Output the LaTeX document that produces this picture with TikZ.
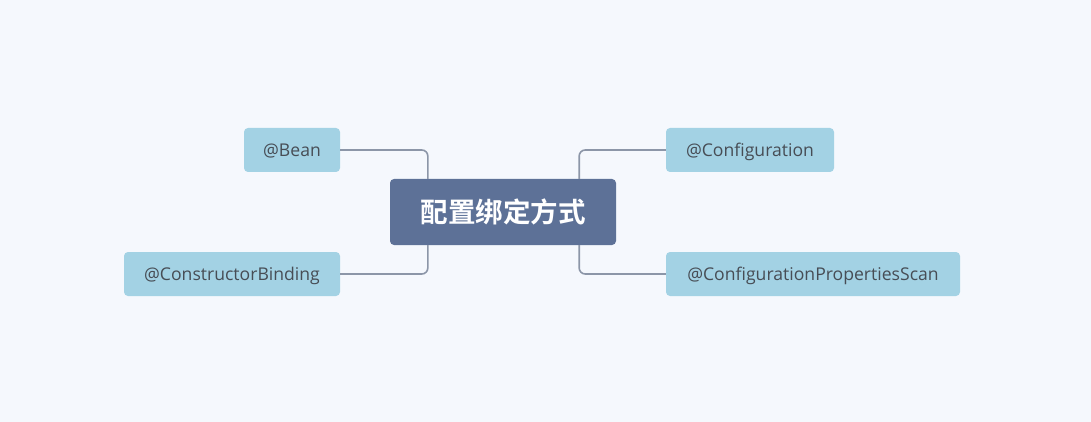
\documentclass[tikz,border=0pt]{standalone}
\usepackage{fontspec}
\setmainfont{Open Sans}
\newfontfamily\cjk{Noto Sans CJK SC}[BoldFont={Noto Sans CJK SC Bold}]
\usetikzlibrary{calc}
\definecolor{bgc}{HTML}{F5F8FD}
\definecolor{rootc}{HTML}{5D7197}
\definecolor{leafc}{HTML}{A3D2E4}
\definecolor{leaftext}{HTML}{474D55}
\definecolor{linec}{HTML}{8C96A8}
\tikzset{
  rootbox/.style={rectangle, rounded corners=4pt, fill=rootc, minimum width=226pt, minimum height=66pt, inner sep=0pt, text=white, font=\cjk\bfseries\fontsize{27.5}{32}\selectfont},
  leafbox/.style={rectangle, rounded corners=4pt, fill=leafc, minimum height=44pt, inner sep=0pt, text=leaftext, text height=12.6pt, text depth=0pt, font=\fontsize{17.6}{21}\selectfont},
  conn/.style={draw=linec, line width=1.6pt, rounded corners=6pt}
}
\begin{document}
\begin{tikzpicture}[x=1pt,y=-1pt]
\fill[bgc] (0,0) rectangle (1091,422);
\useasboundingbox (0,0) rectangle (1091,422);
\node[rootbox] (root) at (503,212) {配置绑定方式};
\node[leafbox, minimum width=96pt] (bean) at (292,150) {@Bean};
\node[leafbox, minimum width=216pt] (cb) at (232,274) {@ConstructorBinding};
\node[leafbox, minimum width=168pt] (conf) at (750,150) {@Configuration};
\node[leafbox, minimum width=294pt] (cps) at (813,274) {@ConfigurationPropertiesScan};
\draw[conn] ($(root.north west)+(38,0)$) |- (bean.east);
\draw[conn] ($(root.south west)+(38,0)$) |- (cb.east);
\draw[conn] ($(root.north east)+(-37,0)$) |- (conf.west);
\draw[conn] ($(root.south east)+(-37,0)$) |- (cps.west);
\end{tikzpicture}
\end{document}
